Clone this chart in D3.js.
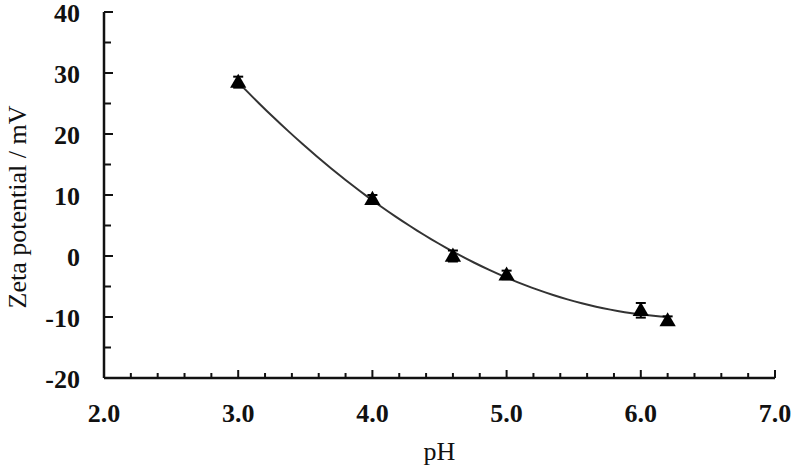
<!DOCTYPE html>
<html>
<head>
<meta charset="utf-8">
<script src="https://cdn.jsdelivr.net/npm/d3@7"></script>
<style>
  body { margin: 0; background: #fff; }
  svg { display: block; }
  text { font-family: 'Liberation Serif', 'Times New Roman', Times, serif; fill: #111; }
  .tick-label { font-weight: bold; font-size: 26px; }
  .title { font-size: 26px; }
</style>
</head>
<body>
<script>
// Measured points
const phValues = [3.0, 4.0, 4.6, 5.0, 6.0, 6.2];
const zetaValues = [28.5, 9.3, 0.0, -3.1, -8.9, -10.6];
const zetaErrors = [0.9, 0.7, 0.9, 0.7, 1.2, 0.7];
const xTicks = [2.0, 3.0, 4.0, 5.0, 6.0, 7.0];
const yTicks = [-20, -10, 0, 10, 20, 30, 40];

const width = 793, height = 467;
const margin = { top: 12, right: 18, bottom: 89, left: 104 };

const svg = d3.select('body').append('svg')
    .attr('width', width)
    .attr('height', height);

const x = d3.scaleLinear().domain([2, 7]).range([margin.left, width - margin.right]);
const y = d3.scaleLinear().domain([-20, 40]).range([height - margin.bottom, margin.top]);

// Quadratic least-squares trendline (like a spreadsheet polynomial fit)
function quadFit(xs, ys) {
    const n = xs.length;
    let s = [0, 0, 0, 0, 0], t = [0, 0, 0];
    for (let i = 0; i < n; i++) {
        for (let k = 0; k < 5; k++) s[k] += Math.pow(xs[i], k);
        for (let k = 0; k < 3; k++) t[k] += ys[i] * Math.pow(xs[i], k);
    }
    const A = [[s[0], s[1], s[2], t[0]], [s[1], s[2], s[3], t[1]], [s[2], s[3], s[4], t[2]]];
    for (let i = 0; i < 3; i++) {
        for (let j = i + 1; j < 3; j++) {
            const f = A[j][i] / A[i][i];
            for (let k = i; k < 4; k++) A[j][k] -= f * A[i][k];
        }
    }
    const c = [0, 0, 0];
    for (let i = 2; i >= 0; i--) {
        let v = A[i][3];
        for (let k = i + 1; k < 3; k++) v -= A[i][k] * c[k];
        c[i] = v / A[i][i];
    }
    return v => c[0] + c[1] * v + c[2] * v * v;
}

const fit = quadFit(phValues, zetaValues);
const fitLine = d3.range(60 + 1).map(i => {
    const p = phValues[0] + (phValues[phValues.length - 1] - phValues[0]) * i / 60;
    return [p, fit(p)];
});

svg.append('path')
    .datum(fitLine)
    .attr('fill', 'none')
    .attr('stroke', '#333')
    .attr('stroke-width', 2)
    .attr('d', d3.line().x(d => x(d[0])).y(d => y(d[1])).curve(d3.curveBasis));

// Axes
const axisColor = '#111';
const gx = svg.append('g');
gx.append('line')
    .attr('x1', x(2)).attr('x2', x(7))
    .attr('y1', y(-20)).attr('y2', y(-20))
    .attr('stroke', axisColor).attr('stroke-width', 2.5);
gx.selectAll('.xt')
    .data(d3.range(0, 26).map(i => 2 + i * 0.2))
    .enter().append('line')
    .attr('x1', d => x(d)).attr('x2', d => x(d))
    .attr('y1', y(-20))
    .attr('y2', (d, i) => y(-20) - (i % 5 === 0 ? 8 : 5))
    .attr('stroke', axisColor).attr('stroke-width', 2);
gx.selectAll('.xl')
    .data(xTicks)
    .enter().append('text')
    .attr('class', 'tick-label')
    .attr('x', d => x(d))
    .attr('y', y(-20) + 44)
    .attr('text-anchor', 'middle')
    .text(d => d.toFixed(1));

const gy = svg.append('g');
gy.append('line')
    .attr('x1', x(2)).attr('x2', x(2))
    .attr('y1', y(-20)).attr('y2', y(40))
    .attr('stroke', axisColor).attr('stroke-width', 2.5);
gy.selectAll('.yt')
    .data(d3.range(0, 13).map(i => -20 + i * 5))
    .enter().append('line')
    .attr('x1', x(2))
    .attr('x2', (d, i) => x(2) + (i % 2 === 0 ? 9 : 7))
    .attr('y1', d => y(d)).attr('y2', d => y(d))
    .attr('stroke', axisColor).attr('stroke-width', 2);
gy.selectAll('.yl')
    .data(yTicks)
    .enter().append('text')
    .attr('class', 'tick-label')
    .attr('x', x(2) - 24)
    .attr('y', d => y(d) + 10)
    .attr('text-anchor', 'end')
    .text(d => d);

// Axis titles
svg.append('text')
    .attr('class', 'title')
    .attr('x', (x(2) + x(7)) / 2)
    .attr('y', 460)
    .attr('text-anchor', 'middle')
    .text('pH');

svg.append('text')
    .attr('class', 'title')
    .attr('transform', `translate(26,207) rotate(-90)`)
    .attr('text-anchor', 'middle')
    .text('Zeta potential / mV');

// Error bars
const pts = phValues.map((p, i) => ({ p, z: zetaValues[i], e: zetaErrors[i] }));
const eb = svg.append('g').attr('stroke', '#000').attr('stroke-width', 2);
eb.selectAll('.v').data(pts).enter().append('line')
    .attr('x1', d => x(d.p)).attr('x2', d => x(d.p))
    .attr('y1', d => y(d.z - d.e)).attr('y2', d => y(d.z + d.e));
eb.selectAll('.ct').data(pts).enter().append('line')
    .attr('x1', d => x(d.p) - 5).attr('x2', d => x(d.p) + 5)
    .attr('y1', d => y(d.z + d.e)).attr('y2', d => y(d.z + d.e));
eb.selectAll('.cb').data(pts).enter().append('line')
    .attr('x1', d => x(d.p) - 5).attr('x2', d => x(d.p) + 5)
    .attr('y1', d => y(d.z - d.e)).attr('y2', d => y(d.z - d.e));

// Markers
svg.selectAll('.m').data(pts).enter().append('path')
    .attr('transform', d => `translate(${x(d.p)},${y(d.z) + 1})`)
    .attr('d', d3.symbol().type(d3.symbolTriangle).size(115))
    .attr('fill', '#000');
</script>
</body>
</html>
